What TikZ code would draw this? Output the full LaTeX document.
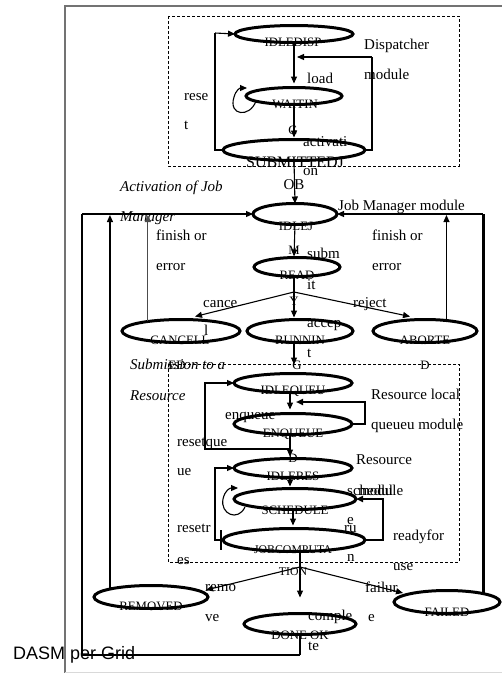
\documentclass[tikz,border=0pt]{standalone}
\usepackage{fontspec}
\setmainfont{Liberation Serif}
\newfontfamily\captionsans{Liberation Sans}
\usetikzlibrary{shapes.geometric,arrows.meta,calc}

\begin{document}
\begin{tikzpicture}[x=1pt,y=-1pt,
  state/.style n args={2}{ellipse,draw,line width=3pt,inner sep=0pt,outer sep=0pt,
    minimum width=#1pt,minimum height=#2pt},
  stxt/.style={inner sep=0pt,anchor=mid,font=\fontsize{12.8}{12.8}\selectfont},
  lbl/.style={inner sep=0pt,anchor=mid west,font=\fontsize{15}{15}\selectfont},
  ilbl/.style={lbl,font=\fontsize{15}{15}\selectfont\itshape},
  ln/.style={line width=1.1pt},
  arr/.style={ln,-{Triangle[length=7pt,width=6pt]}},
  tk/.style={line width=2.5pt},
  tkarr/.style={tk,-{Triangle[length=7pt,width=6pt]}},
  modbox/.style={line width=0.8pt,dash pattern=on 3pt off 2pt},
  framegray/.style={draw=black!55,line width=1.2pt}]

\useasboundingbox (0,0) rectangle (502,673);

% page frame
\draw[framegray] (65,673) -- (65,6) -- (502,6);
\draw[black!15,line width=0.8pt] (65,672) -- (502,672);

% dashed module boxes
\draw[modbox] (168,16) rectangle (459,166);
\draw[modbox] (168,364) rectangle (459,562);

% states
\node[state={118}{17}] (idledisp)  at (294,34)  {};
\node[state={96}{17}]  (waiting)   at (294,96)  {};
\node[state={142}{21}] (submitted) at (294,150) {};
\node[state={84}{21}]  (idlejm)    at (295,214) {};
\node[state={86}{19}]  (ready)     at (297,267) {};
\node[state={118}{23}] (cancelled) at (181,331) {};
\node[state={106}{23}] (running)   at (300,331) {};
\node[state={104}{23}] (aborted)   at (425,331) {};
\node[state={118}{19}] (idlequeue) at (293,383) {};
\node[state={118}{21}] (enqueue)   at (293,424) {};
\node[state={118}{19}] (idleres)   at (293,468) {};
\node[state={122}{21}] (schedule)  at (295,499) {};
\node[state={142}{23}] (jobcomp)   at (294,540) {};
\node[state={114}{23}] (removed)   at (151,597) {};
\node[state={112}{21}] (doneok)    at (300,624) {};
\node[state={106}{23}] (failed)    at (447,602) {};

% state names
\node[stxt] (n1)  at (293,44)  {IDLEDISP};
\node[stxt] (n2)  at (295,106) {WAITIN};
\node[stxt] (n2b) at (293,132) {G};
\node[stxt,font=\fontsize{16}{16}\selectfont] (n3)  at (295,165) {SUBMITTEDJ};
\node[stxt,font=\fontsize{15}{15}\selectfont] (n3b) at (294,187) {OB};
\node[stxt] (n4)  at (296,228) {IDLEJ};
\node[stxt] (n4b) at (294,252) {M};
\node[stxt] (n5)  at (297,277) {READ};
\node[stxt] (n5b) at (294,303) {Y};
\node[stxt] (n6)  at (180,342) {CANCELL};
\node[stxt] (n6b) at (177,367) {ED};
\node[stxt] (n7)  at (300,342) {RUNNIN};
\node[stxt] (n7b) at (297,367) {G};
\node[stxt] (n8)  at (425,342) {ABORTE};
\node[stxt] (n8b) at (425,367) {D};
\node[stxt] (n9)  at (293,392) {IDLEQUEU};
\node[stxt] (n10) at (293,435) {ENQUEUE};
\node[stxt] (n10b) at (293,460) {D};
\node[stxt] (n11) at (293,478) {IDLERES};
\node[stxt] (n12) at (295,512) {SCHEDULE};
\node[stxt,font=\fontsize{11.8}{11.8}\selectfont] (n13) at (293,551) {JOBCOMPUTA};
\node[stxt,font=\fontsize{11.8}{11.8}\selectfont] (n13b) at (293,573) {TION};
\node[stxt] (n14) at (151,608) {REMOVED};
\node[stxt] (n15) at (300,637) {DONE OK};
\node[stxt] (n16) at (447,614) {FAILED};

% labels
\node[lbl] (l1)  at (364,47)  {Dispatcher};
\node[lbl] (l1b) at (364,77)  {module};
\node[lbl] (l2)  at (307,81)  {load};
\node[lbl] (l3)  at (184,98)  {rese};
\node[lbl] (l3b) at (184,127) {t};
\node[lbl] (l4)  at (303,144) {activati};
\node[lbl] (l4b) at (303,173) {on};
\node[ilbl] (l5)  at (120,189) {Activation of Job};
\node[ilbl] (l5b) at (120,219) {Manager};
\node[lbl] (l6)  at (338,208) {Job Manager module};
\node[lbl] (l7)  at (156,238) {finish or};
\node[lbl] (l7b) at (156,268) {error};
\node[lbl] (l8)  at (372,238) {finish or};
\node[lbl] (l8b) at (372,268) {error};
\node[lbl] (l9)  at (307,256) {subm};
\node[lbl] (l9b) at (307,287) {it};
\node[lbl] (l10) at (203,305) {cance};
\node[lbl] (l10b) at (204,333) {l};
\node[lbl] (l11) at (353,305) {reject};
\node[lbl] (l12) at (307,325) {accep};
\node[lbl] (l12b) at (307,355) {t};
\node[ilbl] (l13) at (130,367) {Submission to a};
\node[ilbl] (l13b) at (130,398) {Resource};
\node[lbl] (l14) at (371,397) {Resource local};
\node[lbl] (l14b) at (371,427) {queueu module};
\node[lbl] (l15) at (225,417) {enqueue};
\node[lbl] (l16) at (177,444) {resetque};
\node[lbl] (l16b) at (177,473) {ue};
\node[lbl] (l17) at (356,462) {Resource};
\node[lbl] (l17b) at (358,493) {module};
\node[lbl] (l18) at (347,493) {schedul};
\node[lbl] (l18b) at (347,522) {e};
\node[lbl] (l19) at (344,530) {ru};
\node[lbl] (l19b) at (347,559) {n};
\node[lbl] (l20) at (177,530) {resetr};
\node[lbl] (l20b) at (177,562) {es};
\node[lbl] (l21) at (393,538) {readyfor};
\node[lbl] (l21b) at (393,568) {use};
\node[lbl] (l22) at (205,589) {remo};
\node[lbl] (l22b) at (205,619) {ve};
\node[lbl] (l23) at (308,618) {comple};
\node[lbl] (l23b) at (308,648) {te};
\node[lbl] (l24) at (365,590) {failur};
\node[lbl] (l24b) at (368,619) {e};
\node[inner sep=0pt,anchor=mid west,font=\captionsans\fontsize{18}{18}\selectfont] (cap) at (13,657) {DASM per Grid};

% helper points
\coordinate (br1) at (294,292);
\coordinate (br2) at (300,567);
\coordinate (cq) at (290,0);
\coordinate (cs) at (293,0);

% dispatcher module
\draw[arr,shorten >=4pt] (idledisp.south) -- (waiting.north);
\draw[arr,shorten >=2pt] (waiting.south) -- (submitted.north);
\draw[tk] (submitted.east) -| (372,57);
\draw[arr] (372,57) -- (297,57);
\draw[tk] (submitted.west) -| (215,33);
\draw[arr] (215,33) -- (idledisp.west);
\draw[arr] (256,101) .. controls (250,118) and (228,116) .. (234,97)
  .. controls (236,90) and (240,88) .. (247,88);
\draw[arr] (submitted.south) -- (idlejm.north);

% job manager
\draw[arr,shorten >=1pt] (idlejm.south) -- (ready.north -| br1);
\draw[ln] (br1 |- ready.south) -- (br1);
\draw[arr] (br1) -- ($(cancelled.north)+(14,-3)$);
\draw[arr,shorten >=2pt] (br1) -- (br1 |- running.north);
\draw[arr] (br1) -- ($(aborted.north)+(-15,-3)$);
\draw[arr,shorten >=9pt] (br1 |- running.south) -- (br1 |- idlequeue.north);
\draw[arr,draw=black!70,shorten >=1pt] (cancelled.164) -- (cancelled.164 |- idlejm.west);
\draw[arr,shorten >=1pt] (aborted.26) -- (aborted.26 |- idlejm.west);
\draw[arr,shorten >=1pt] (removed.169) -- (removed.169 |- idlejm.west);
\draw[tk] (failed.13) -- (failed.13 |- idlejm.east);
\draw[arr] (failed.13 |- idlejm.east) -- (idlejm.east);
\draw[ln] (br2 |- doneok.south) -- (300,655);
\draw[tk] (300,655) -- (82,655) -- (82,214);
\draw[arr] (82,214) -- (idlejm.west);

% resource local queue
\draw[arr,shorten >=4pt] (cq |- idlequeue.south) -- (cq |- enqueue.north);
\draw[tkarr] (enqueue.east) -| (365,402) -- (296,402);
\draw[arr,shorten >=2pt] (cq |- enqueue.south) -- (cq |- idleres.north);
\draw[arr] (290,449) -| (205,383) -- (idlequeue.west);

% resource scheduler
\draw[arr,shorten >=2pt] (cq |- idleres.south) -- (cq |- schedule.north);
\draw[arr] (245,507) .. controls (238,522) and (220,514) .. (223,499)
  .. controls (225,490) and (230,488) .. (238,488);
\draw[arr,shorten >=3pt] (cs |- schedule.south) -- (cs |- jobcomp.north);
\draw[tkarr] (jobcomp.east) -| (383,499) -- (schedule.east);
\draw[arr] (jobcomp.west) -| (215,468) -- (idleres.west);
\draw[line width=2.6pt] (221,530) -- (221,550);

% job outcome
\draw[ln] (br2 |- jobcomp.south) -- (br2);
\draw[arr] (br2) -- ($(removed.east)+(-2,-7)$);
\draw[arr,shorten >=16pt] (br2) -- (br2 |- doneok.north);
\draw[arr] (br2) -- ($(failed.west)+(9,-9)$);
\end{tikzpicture}
\end{document}
